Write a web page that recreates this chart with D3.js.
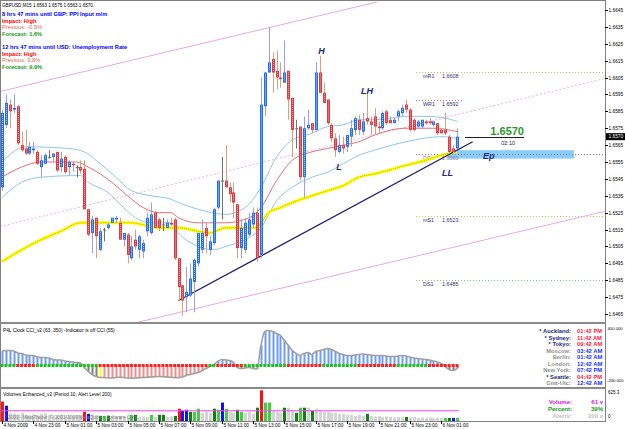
<!DOCTYPE html>
<html>
<head>
<meta charset="utf-8">
<script src="https://cdn.jsdelivr.net/npm/d3@7/dist/d3.min.js"></script>
<style>
body { margin: 0; background: #fff; }
text { font-family: "Liberation Sans", Arial, sans-serif; }
</style>
</head>
<body>
<div id="chart"></div>
<script>
// ---- data (GBPUSD M15, one value per bar) ----
var open = [1.6540,1.6577,1.6589,1.6586,1.6588,1.6565,1.6563,1.6560,1.6562,1.6561,
  1.6552,1.6554,1.6558,1.6558,1.6561,1.6552,1.6558,1.6552,1.6554,1.6552,
  1.6552,1.6551,1.6527,1.6513,1.6522,1.6503,1.6515,1.6516,1.6519,1.6521,
  1.6519,1.6509,1.6512,1.6498,1.6509,1.6503,1.6502,1.6514,1.6513,1.6525,
  1.6521,1.6518,1.6516,1.6519,1.6521,1.6498,1.6482,1.6475,1.6476,1.6484,
  1.6495,1.6503,1.6516,1.6503,1.6507,1.6528,1.6544,1.6544,1.6540,1.6537,
  1.6530,1.6504,1.6503,1.6512,1.6518,1.6525,1.6500,1.6588,1.6608,1.6616,
  1.6609,1.6605,1.6602,1.6609,1.6593,1.6575,1.6576,1.6546,1.6575,1.6578,
  1.6574,1.6608,1.6596,1.6592,1.6577,1.6569,1.6561,1.6565,1.6564,1.6570,
  1.6574,1.6580,1.6573,1.6581,1.6579,1.6582,1.6576,1.6575,1.6585,1.6580,
  1.6578,1.6582,1.6584,1.6589,1.6586,1.6580,1.6576,1.6576,1.6579,1.6579,
  1.6577,1.6578,1.6574,1.6574,1.6570,1.6563,1.6563];
var high = [1.6586,1.6595,1.6592,1.6595,1.6589,1.6573,1.6574,1.6567,1.6567,1.6562,
  1.6559,1.6560,1.6562,1.6560,1.6561,1.6561,1.6559,1.6556,1.6555,1.6553,
  1.6556,1.6556,1.6527,1.6523,1.6522,1.6516,1.6516,1.6519,1.6522,1.6523,
  1.6522,1.6513,1.6513,1.6511,1.6515,1.6512,1.6509,1.6525,1.6531,1.6526,
  1.6522,1.6522,1.6521,1.6522,1.6522,1.6498,1.6482,1.6493,1.6495,1.6498,
  1.6513,1.6521,1.6519,1.6511,1.6528,1.6544,1.6558,1.6565,1.6543,1.6543,
  1.6530,1.6521,1.6522,1.6525,1.6528,1.6528,1.6605,1.6608,1.6635,1.6620,
  1.6621,1.6614,1.6627,1.6609,1.6593,1.6580,1.6576,1.6582,1.6586,1.6578,
  1.6614,1.6618,1.6602,1.6592,1.6578,1.6572,1.6571,1.6570,1.6571,1.6580,
  1.6582,1.6583,1.6584,1.6596,1.6582,1.6587,1.6579,1.6585,1.6586,1.6582,
  1.6581,1.6586,1.6589,1.6592,1.6587,1.6581,1.6580,1.6580,1.6580,1.6581,
  1.6579,1.6578,1.6575,1.6584,1.6571,1.6565,1.6575];
var low = [1.6538,1.6575,1.6575,1.6584,1.6565,1.6561,1.6559,1.6559,1.6560,1.6553,
  1.6546,1.6554,1.6557,1.6555,1.6549,1.6549,1.6548,1.6547,1.6549,1.6546,
  1.6548,1.6527,1.6511,1.6501,1.6498,1.6502,1.6508,1.6515,1.6519,1.6519,
  1.6509,1.6505,1.6495,1.6497,1.6503,1.6498,1.6498,1.6511,1.6512,1.6516,
  1.6514,1.6514,1.6516,1.6517,1.6497,1.6473,1.6464,1.6466,1.6475,1.6466,
  1.6493,1.6501,1.6501,1.6500,1.6506,1.6527,1.6521,1.6540,1.6531,1.6522,
  1.6498,1.6498,1.6501,1.6511,1.6516,1.6496,1.6498,1.6582,1.6608,1.6596,
  1.6598,1.6599,1.6602,1.6580,1.6558,1.6563,1.6544,1.6534,1.6574,1.6572,
  1.6573,1.6596,1.6590,1.6577,1.6567,1.6558,1.6560,1.6560,1.6561,1.6564,
  1.6571,1.6571,1.6571,1.6577,1.6571,1.6571,1.6572,1.6574,1.6577,1.6578,
  1.6578,1.6579,1.6582,1.6584,1.6573,1.6573,1.6575,1.6575,1.6577,1.6577,
  1.6576,1.6571,1.6572,1.6571,1.6560,1.6560,1.6563];
var close = [1.6584,1.6590,1.6585,1.6587,1.6566,1.6562,1.6560,1.6564,1.6563,1.6554,
  1.6556,1.6559,1.6558,1.6560,1.6550,1.6557,1.6549,1.6555,1.6553,1.6552,
  1.6550,1.6527,1.6512,1.6521,1.6511,1.6514,1.6515,1.6518,1.6522,1.6522,
  1.6509,1.6513,1.6500,1.6505,1.6505,1.6511,1.6507,1.6522,1.6524,1.6516,
  1.6516,1.6518,1.6519,1.6518,1.6498,1.6481,1.6473,1.6478,1.6486,1.6497,
  1.6513,1.6513,1.6511,1.6508,1.6527,1.6544,1.6544,1.6540,1.6536,1.6531,
  1.6504,1.6516,1.6519,1.6521,1.6525,1.6498,1.6589,1.6608,1.6614,1.6608,
  1.6605,1.6604,1.6608,1.6592,1.6574,1.6575,1.6546,1.6575,1.6577,1.6574,
  1.6608,1.6596,1.6590,1.6578,1.6569,1.6562,1.6565,1.6563,1.6571,1.6575,
  1.6581,1.6574,1.6579,1.6579,1.6577,1.6576,1.6575,1.6584,1.6578,1.6578,
  1.6580,1.6585,1.6587,1.6586,1.6574,1.6574,1.6579,1.6580,1.6578,1.6578,
  1.6579,1.6572,1.6572,1.6572,1.6561,1.6561,1.6570];

// indicator lines, sampled at bar numbers
var upperBars  = [0,6,17,21,24,29,33,38,43,45,50,57,62,66,70,74,79,83,87,91,95,103,108,113,116];
var upperBand  = [1.6555,1.6564,1.6563,1.6561,1.6556,1.6546,1.6538,1.6535,1.6533,1.6531,1.6527,1.6524,1.6528,1.6540,1.6558,1.6568,1.6572,1.6576,1.6577,1.6580,1.6580,1.6582,1.6582,1.6581,1.6579];
var midBars    = [0,5,10,19,22,28,32,36,40,43,45,50,57,63,66,70,74,79,83,87,91,95,103,110,116];
var midLine    = [1.6546,1.6552,1.6555,1.6555,1.6552,1.6543,1.6535,1.6528,1.6525,1.6525,1.6522,1.6519,1.6519,1.6522,1.6528,1.6544,1.6556,1.6561,1.6563,1.6565,1.6567,1.6571,1.6575,1.6575,1.6573];
var lowerBars  = [0,5,10,20,22,27,31,34,38,43,45,50,54,57,62,66,70,74,79,83,87,91,95,103,112,116];
var lowerBand  = [1.6534,1.6543,1.6546,1.6547,1.6543,1.6537,1.6528,1.6522,1.6519,1.6519,1.6513,1.6505,1.6503,1.6505,1.6509,1.6516,1.6532,1.6540,1.6546,1.6549,1.6554,1.6559,1.6562,1.6567,1.6570,1.6569];
var slowBars   = [0,5,10,15,20,25,33,40,45,50,53,57,62,65,66,68,71,74,79,83,87,91,95,103,108,112,116];
var slowMA     = [1.6496,1.6503,1.6509,1.6514,1.6519,1.6519,1.6519,1.6516,1.6516,1.6514,1.6513,1.6516,1.6516,1.6516,1.6519,1.6525,1.6528,1.6531,1.6535,1.6538,1.6541,1.6546,1.6548,1.6553,1.6556,1.6559,1.6561];

// drawn objects: [bar, price] anchor pairs
var channelTop = [[0,1.6597],[116,1.6661]];
var channelMid = [[0,1.6517],[116,1.6583]];
var channelLow = [[0,1.6441],[116,1.6505]];
var trendLine  = [[45,1.6473],[120,1.6567]];

var levelNames  = ["mR1","WR1","DPV","mS1","DS1"];
var levelPrices = [1.6608,1.6592,1.6560,1.6523,1.6485];
var entryZone   = [1.6562,1.6557];

var swingNames  = ["H","LH","L","LL"];
var swingBars   = [80.6,91.5,85.2,112.2];
var swingPrices = [1.6619,1.6595,1.6550,1.6547];

var priceTicks = [1.6645,1.6635,1.6625,1.6615,1.6605,1.6595,1.6585,1.6575,1.6565,1.6555,1.6545,1.6535,1.6525,1.6515,1.6505,1.6495,1.6485,1.6475,1.6465];
var timeTickBars = [0,8,16,24,32,40,48,56,64,72,80,88,96,104,112];
var timeLabels = ["4 Nov 2009","4 Nov 23:00","5 Nov 01:00","5 Nov 03:00","5 Nov 05:00","5 Nov 07:00","5 Nov 09:00","5 Nov 11:00","5 Nov 13:00","5 Nov 15:00","5 Nov 17:00","5 Nov 19:00","5 Nov 21:00","5 Nov 23:00","6 Nov 01:00"];

// CCI (55) per bar
var cci = [145,150,150,145,125,120,105,100,100,85,
  80,80,75,60,55,55,45,40,35,30,
  25,-20,-60,-90,-110,-120,-120,-125,-125,-120,
  -118,-120,-125,-128,-125,-122,-120,-118,-115,-112,
  -110,-112,-115,-118,-120,-122,-115,-100,-90,-80,
  -70,-50,-30,-10,10,40,60,55,50,30,
  -20,-30,-25,-20,-30,-35,200,340,350,340,
  320,300,250,200,150,120,100,120,130,110,
  140,150,160,170,160,140,120,110,100,100,
  105,110,115,110,105,100,100,100,95,90,
  90,95,100,95,85,75,70,65,60,55,
  45,35,20,-10,-40,-50,-30];
// CCI_v2 state on the zero row: g green, r red
var cciState = "ggggrrrrrgggggggggggggggg" + "rrrrrrrrrrrrrrrrrrrrrrrrrrrr" + "ggrrrrrrrgggg" +
  "gggggggrrrrrrrrr" + "gggggggggrrrrrrrrrr" + "ggggggggrrrrrrrr";

// Volumes per bar and colour class: g grey, G dark green, l light green, r red, b blue
var volume = [380,300,150,140,130,160,120,110,130,120,
  140,150,120,110,100,130,120,110,100,120,
  110,180,140,130,120,100,100,100,90,90,
  100,100,90,120,120,80,90,80,120,80,
  120,120,80,90,100,240,200,220,180,180,
  240,160,180,160,240,220,360,240,180,160,
  220,180,160,180,140,260,600,360,360,200,
  180,160,260,260,220,160,260,260,260,200,
  240,200,180,180,160,160,140,140,120,120,
  100,120,100,140,100,90,100,80,90,80,
  70,80,70,80,70,80,60,70,60,70,
  60,60,60,60,60,60,61];
var volClass = "rbggggggggggggggggggg" + "rbggGlGgggggl" + "Gggglg" + "GGggGrbbGll" +
  "gggGlblggGlgggGrllgggGggGlGgGg" + "ggggggggggggGgggggggggGggggggggg" + "lGblG";

var clockCities = ["* Auckland:","* Sydney:","* Tokyo:","Moscow:","Berlin:","London:","New York:","* Seattle:","Gmt-Utc:"];
var clockTimes  = ["01:42 PM","11:42 AM","09:42 AM","03:42 AM","01:42 AM","12:42 AM","07:42 PM","04:42 PM","12:42 AM"];

// ---- layout ----
var W = 625, H = 429;
var plotL = 0, plotR = 605;
var mainTop = 1, mainBot = 322, cciTop = 324, cciBot = 387, volTop = 389, volBot = 421;

var svg = d3.select("#chart").append("svg")
  .attr("width", W).attr("height", H)
  .style("background", "#fff");

var x = d3.scaleLinear().domain([0, 116]).range([2, 457]);
var y = d3.scaleLinear().domain([1.6465, 1.6645]).range([314, 10]);
var cy = d3.scaleLinear().domain([-190, 390]).range([384.5, 326.5]);
var vy = d3.scaleLinear().domain([0, 625.3]).range([volBot, volTop]);

var defs = svg.append("defs");
defs.append("clipPath").attr("id", "clipMain").append("rect")
  .attr("x", plotL + 1).attr("y", mainTop + 1).attr("width", plotR - plotL - 1).attr("height", mainBot - mainTop - 1);

var main = svg.append("g").attr("clip-path", "url(#clipMain)");

// channel lines (extended to the pane edges)
function ray(pts, ext) {
  var s = (pts[1][1] - pts[0][1]) / (pts[1][0] - pts[0][0]);
  return [[ext[0], pts[0][1] + s * (ext[0] - pts[0][0])], [ext[1], pts[0][1] + s * (ext[1] - pts[0][0])]];
}
var lineXY = d3.line().x(function (d) { return x(d[0]); }).y(function (d) { return y(d[1]); });
var ext = [x.invert(0), x.invert(605)];
main.append("path").attr("d", lineXY(ray(channelTop, ext))).attr("stroke", "#e8a8e8").attr("stroke-width", 1).attr("fill", "none");
main.append("path").attr("d", lineXY(ray(channelMid, ext))).attr("stroke", "#f0b0e0").attr("stroke-width", 1).attr("stroke-dasharray", "2,2").attr("fill", "none");
main.append("path").attr("d", lineXY(ray(channelLow, ext))).attr("stroke", "#e8a8e8").attr("stroke-width", 1).attr("fill", "none");

// Ep box
main.append("rect").attr("x", 448).attr("width", 126).attr("y", y(entryZone[0])).attr("height", y(entryZone[1]) - y(entryZone[0]))
  .attr("fill", "#8ccdf8");
main.append("text").attr("x", 483).attr("y", y(entryZone[1]) + 0.5).text("Ep")
  .attr("font-size", 9).attr("font-weight", "bold").attr("font-style", "italic").attr("fill", "#1c2a78");

// level lines
var levelColors = ["#c8c070", "#e07070", "#7070ff", "#d0c860", "#70d070"];
var levelEnd = [605, 462, 605, 605, 605];
levelPrices.forEach(function (p, k) {
  main.append("line").attr("x1", 416).attr("x2", levelEnd[k]).attr("y1", Math.round(y(p)) + 0.5).attr("y2", Math.round(y(p)) + 0.5)
    .attr("stroke", levelColors[k]).attr("stroke-dasharray", "1,2");
});

// level labels
levelNames.forEach(function (n, k) {
  var ty = Math.round(y(levelPrices[k])) + 6;
  var col = n === "DPV" ? "#8080a0" : "#303070";
  main.append("text").attr("x", 423).attr("y", ty).text(n).attr("font-size", 5.4).attr("fill", col);
  main.append("text").attr("x", 442).attr("y", ty).text(levelPrices[k].toFixed(4)).attr("font-size", 5.4).attr("fill", col);
});

// moving averages / bands
var curve = d3.line().x(function (d) { return x(d[0]); }).y(function (d) { return y(d[1]); }).curve(d3.curveMonotoneX);
function pairs(bs, vs) { return bs.map(function (b, k) { return [b, vs[k]]; }); }
main.append("path").attr("d", curve(pairs(upperBars, upperBand))).attr("stroke", "#8cc8f0").attr("fill", "none");
main.append("path").attr("d", curve(pairs(lowerBars, lowerBand))).attr("stroke", "#8cc8f0").attr("fill", "none");
main.append("path").attr("d", curve(pairs(midBars, midLine))).attr("stroke", "#e07070").attr("fill", "none");
main.append("path").attr("d", curve(pairs(slowBars, slowMA))).attr("stroke", "#ffff00").attr("stroke-width", 3).attr("fill", "none");
main.append("path").attr("d", curve(pairs(slowBars, slowMA))).attr("stroke", "#a89a20").attr("stroke-width", 0.8).attr("stroke-dasharray", "1,1").attr("fill", "none");

// trend line
main.append("path").attr("d", lineXY(trendLine)).attr("stroke", "#1c1c70").attr("stroke-width", 1.3).attr("fill", "none");

// candles
var bars = open.map(function (o, i) { return { i: i, o: o, h: high[i], l: low[i], c: close[i] }; });
var cg = main.append("g").selectAll("g").data(bars).enter().append("g");
cg.append("line")
  .attr("x1", function (d) { return Math.round(x(d.i)) + 0.5; })
  .attr("x2", function (d) { return Math.round(x(d.i)) + 0.5; })
  .attr("y1", function (d) { return y(d.h); })
  .attr("y2", function (d) { return y(d.l); })
  .attr("stroke", function (d) { return d.c > d.o ? "#9c9cf0" : d.c < d.o ? "#d8a080" : "#707070"; });
cg.append("rect")
  .attr("x", function (d) { return Math.round(x(d.i)) - 1; })
  .attr("width", 3)
  .attr("y", function (d) { return y(Math.max(d.o, d.c)); })
  .attr("height", function (d) { return Math.max(1, Math.abs(y(d.o) - y(d.c))); })
  .attr("fill", function (d) { return d.c > d.o ? "#2a6cf0" : d.c < d.o ? "#e03a40" : "#707070"; });
cg.filter(function (d) { return Math.abs(y(d.o) - y(d.c)) > 3; }).append("line")
  .attr("x1", function (d) { return Math.round(x(d.i)) + 0.5; })
  .attr("x2", function (d) { return Math.round(x(d.i)) + 0.5; })
  .attr("y1", function (d) { return y(Math.max(d.o, d.c)) + 1; })
  .attr("y2", function (d) { return y(Math.min(d.o, d.c)) - 1; })
  .attr("stroke", function (d) { return d.c > d.o ? "#8ee0ff" : "#f8a0a0"; })
  .attr("stroke-dasharray", "1,1");

// swing labels
swingNames.forEach(function (n, k) {
  main.append("text").attr("x", x(swingBars[k])).attr("y", y(swingPrices[k])).text(n)
    .attr("font-size", 9).attr("font-weight", "bold").attr("font-style", "italic").attr("fill", "#1c2a78");
});

// current price marker
var n = close.length - 1;
var last = close[n];
main.append("line").attr("x1", 465).attr("x2", 524).attr("y1", Math.round(y(last)) + 0.5).attr("y2", Math.round(y(last)) + 0.5)
  .attr("stroke", "#202020").attr("stroke-width", 1.2);
main.append("text").attr("x", 524).attr("y", y(last) - 2).attr("text-anchor", "end").text(last.toFixed(4))
  .attr("font-size", 11).attr("font-weight", "bold").attr("fill", "#2a9a2a");
main.append("text").attr("x", 515).attr("y", y(last) + 8).attr("text-anchor", "end").text("02:10")
  .attr("font-size", 5.5).attr("fill", "#202060");

// header and news block
var info = [
  ["GBPUSD,M15  " + [open[n], high[n], low[n], close[n]].map(function (v) { return v.toFixed(4); }).join(" "), "#000", "normal", 5],
  ["8 hrs 47 mins until GBP: PPI Input m/m", "#0000ff", "bold", 14],
  ["Impact: High", "#ff0000", "bold", 20.5],
  ["Previous: -0.5%", "#d06a50", "normal", 27],
  ["Forecast: 1.6%", "#10a010", "bold", 33.5],
  ["12 hrs 47 mins until USD: Unemployment Rate", "#0000ff", "bold", 47],
  ["Impact: High", "#ff0000", "bold", 53.5],
  ["Previous: 9.8%", "#d06a50", "normal", 60],
  ["Forecast: 9.9%", "#10a010", "bold", 66.5]
];
info.forEach(function (r, k) {
  svg.append("text").attr("x", 2).attr("y", r[3] + 2).text(r[0]).attr("font-size", k === 0 ? 4.6 : 5.7)
    .attr("font-weight", r[2]).attr("fill", r[1]);
});

// ---- CCI pane ----
var cciG = svg.append("g");
cciG.selectAll("rect.c").data(cci).enter().append("rect")
  .attr("x", function (d, i) { return Math.round(x(i)) - 0.5; })
  .attr("width", 2)
  .attr("y", function (d) { return Math.min(cy(d), cy(0)); })
  .attr("height", function (d) { return Math.abs(cy(d) - cy(0)); })
  .attr("fill", function (d, i) {
    if (d >= 0) return "#6e9cf0";
    if (i === 25) return "#ffff00";
    if (i < 25 || (i >= 60 && i <= 65) || i >= 113) return "#808080";
    return "#e89090";
  });
cciG.append("path").datum(cci)
  .attr("d", d3.line().x(function (d, i) { return x(i); }).y(function (d) { return cy(d); }).curve(d3.curveMonotoneX))
  .attr("stroke", "#a0a0a0").attr("stroke-width", 1.6).attr("fill", "none");
cciG.selectAll("rect.z").data(cci).enter().append("rect")
  .attr("x", function (d, i) { return x(i) - 1.5; })
  .attr("width", 3).attr("y", cy(0) - 1.5).attr("height", 3)
  .attr("fill", function (d, i) { return cciState.charAt(i) === "g" ? "#20c020" : "#ff2020"; });
svg.append("text").attr("x", 3).attr("y", 332).text("P4L Clock     CCI_v2 (63, 350) -Indicator is off     CCI (55)")
  .attr("font-size", 4.8).attr("fill", "#000");

clockCities.forEach(function (c, k) {
  var ty = 333 + k * 6.5;
  var star = c.charAt(0) === "*";
  svg.append("text").attr("x", 571).attr("y", ty).attr("text-anchor", "end").text(c)
    .attr("font-size", 5.8).attr("font-weight", "bold").attr("fill", star ? "#1c2a78" : "#909090");
  var red = k < 3 || k === 7;
  svg.append("text").attr("x", 577).attr("y", ty).text(clockTimes[k])
    .attr("font-size", 5.8).attr("font-weight", "bold").attr("fill", red ? "#ff2040" : "#2030ff");
});

// ---- Volume pane ----
var volColors = { g: "#d4d4d4", G: "#108010", l: "#40d040", r: "#ff1010", b: "#1010ff" };
svg.append("g").selectAll("rect").data(volume).enter().append("rect")
  .attr("x", function (d, i) { return Math.round(x(i)) - 1; })
  .attr("width", 3)
  .attr("y", function (d) { return vy(d); })
  .attr("height", function (d) { return volBot - vy(d); })
  .attr("fill", function (d, i) { return volColors[volClass.charAt(i)] || "#d4d4d4"; });
svg.append("line").attr("x1", 1).attr("x2", x(116) + 2).attr("y1", vy(200)).attr("y2", vy(200))
  .attr("stroke", "#ff40ff").attr("stroke-width", 1.2);
svg.append("text").attr("x", 3).attr("y", 396).text("Volumes Enhanced_v2 (Period 10, Alert Level 200)")
  .attr("font-size", 4.8).attr("fill", "#000");
svg.append("text").attr("x", 3).attr("y", 418.5).text("\u00a9 2000 - MetaTrader, \u00a9 2001-2009 MetaQuotes Software Corp.")
  .attr("font-size", 4.8).attr("fill", "#808080");
var volInfo = [["Volume:", volume[n] + " v", "#d020e0"], ["Percent:", "39%", "#10a010"], ["AlertV:", "200 v", "#c0c0c0"]];
volInfo.forEach(function (r, k) {
  var ty = 404 + k * 7;
  svg.append("text").attr("x", 572).attr("y", ty).attr("text-anchor", "end").text(r[0])
    .attr("font-size", 6).attr("font-weight", "bold").attr("fill", r[2]);
  svg.append("text").attr("x", 603).attr("y", ty).attr("text-anchor", "end").text(r[1])
    .attr("font-size", 6).attr("font-weight", "bold").attr("fill", r[2]);
});

// ---- frames ----
svg.append("rect").attr("x", 0.5).attr("y", 0.5).attr("width", plotR).attr("height", volBot).attr("fill", "none").attr("stroke", "#808080");
[mainBot, cciBot].forEach(function (yy) {
  svg.append("rect").attr("x", 0).attr("y", yy).attr("width", plotR + 1).attr("height", 2).attr("fill", "#8a8a8a");
});

// price axis
var ax = svg.append("g");
priceTicks.forEach(function (p) {
  var ty = Math.round(y(p)) + 0.5;
  ax.append("line").attr("x1", plotR).attr("x2", plotR + 3).attr("y1", ty).attr("y2", ty).attr("stroke", "#000");
  ax.append("text").attr("x", plotR + 3.5).attr("y", ty + 1.8).text(p.toFixed(4)).attr("font-size", 4.8).attr("fill", "#000");
});
ax.append("rect").attr("x", plotR + 1).attr("y", y(last) - 3.5).attr("width", 19).attr("height", 7).attr("fill", "#000");
ax.append("text").attr("x", plotR + 3.5).attr("y", y(last) + 1.8).text(last.toFixed(4)).attr("font-size", 4.8).attr("fill", "#fff");
ax.append("text").attr("x", plotR + 2.5).attr("y", 329.5).text("400.000").attr("font-size", 4.2).attr("fill", "#000");
ax.append("text").attr("x", plotR + 2).attr("y", 381.5).text("-200.000").attr("font-size", 4.2).attr("fill", "#000");
ax.append("text").attr("x", plotR + 3).attr("y", 394).text("625.3").attr("font-size", 4.5).attr("fill", "#000");
ax.append("text").attr("x", plotR + 3).attr("y", 417.5).text("0").attr("font-size", 4.5).attr("fill", "#000");

// time axis
timeTickBars.forEach(function (b, k) {
  var tx = Math.round(x(b)) + 0.5;
  svg.append("line").attr("x1", tx).attr("x2", tx).attr("y1", volBot).attr("y2", volBot + 3).attr("stroke", "#000");
  svg.append("text").attr("x", tx + 1).attr("y", 427).text(timeLabels[k]).attr("font-size", 4.8).attr("fill", "#000");
});
</script>
</body>
</html>
